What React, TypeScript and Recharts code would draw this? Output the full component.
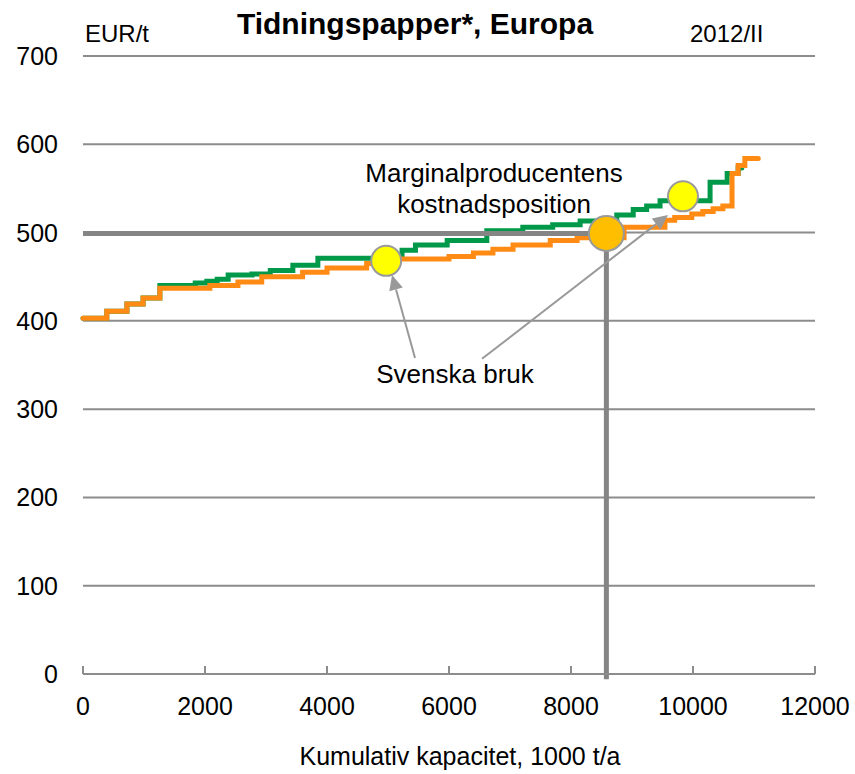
import React from 'react'
import { LineChart, Line, XAxis, YAxis, CartesianGrid, ReferenceLine, ReferenceDot } from 'recharts'

// Cost curves: cumulative capacity (1000 t/a) where each step starts, cost EUR/t
const greenCapacity = [0, 390, 720, 985, 1260, 1840, 2030, 2200, 2380, 2770, 3070, 3440, 3850, 5230, 5450, 5970, 6620, 7210, 7700, 8150, 8750, 9020, 9240, 9460, 10280, 10560, 10740, 10800]
const greenCost = [403, 411, 419, 426, 440, 443, 445, 447, 452, 453, 457, 463, 471, 480, 486, 491, 502, 506, 509, 513, 520, 526, 530, 536, 557, 567, 573, 573]

const orangeCapacity = [0, 390, 720, 985, 1260, 2080, 2540, 2930, 3600, 4000, 4650, 5000, 6000, 6400, 6720, 7050, 7660, 8100, 8870, 9540, 9700, 9980, 10160, 10330, 10490, 10640, 10740, 10850, 11070]
const orangeCost = [403, 411, 419, 426, 437, 440, 444, 450, 455, 460, 465, 470, 473, 477, 481, 486, 491, 494, 506, 514, 517, 521, 524, 527, 530, 567, 576, 584, 584]

// marginal producer position
const marginalCapacity = 8580
const marginalCost = 499

// Swedish mills
const svenskaCapacity = [4970, 9836]
const svenskaCost = [468, 541]

// annotation arrows (tail -> tip), data units
const arrowTailX = [5443, 6541]
const arrowTailY = [358, 357]
const arrowTipX = [5066, 9590]
const arrowTipY = [452, 520]

const xTicks = [0, 2000, 4000, 6000, 8000, 10000, 12000]
const yTicks = [0, 100, 200, 300, 400, 500, 600, 700]

const green = greenCapacity.map((x, i) => ({ x, y: greenCost[i] }))
const orange = orangeCapacity.map((x, i) => ({ x, y: orangeCost[i] }))

const FONT = '"Liberation Sans", Arial, sans-serif'
const GRID = '#8c8c8c'

const XTick = (props: any) => {
  const { x, y, payload } = props
  return (
    <g>
      <line x1={x} x2={x} y1={y} y2={y - 8} stroke={GRID} strokeWidth={2} />
      <text x={x} y={y + 41} textAnchor="middle" fontSize={25} fontFamily={FONT} fill="#000">{payload.value}</text>
    </g>
  )
}

const YTick = (props: any) => {
  const { x, y, payload } = props
  return (
    <text x={x - 25} y={y + 9} textAnchor="end" fontSize={25} fontFamily={FONT} fill="#000">{payload.value}</text>
  )
}

const Arrow = (p: any) => {
  const { x1, y1, x2, y2 } = p
  const dx = x2 - x1, dy = y2 - y1
  const len = Math.hypot(dx, dy) || 1
  const ux = dx / len, uy = dy / len
  const hl = 15, hw = 7
  const bx = x2 - ux * hl, by = y2 - uy * hl
  return (
    <g>
      <line x1={x1} y1={y1} x2={bx} y2={by} stroke="#999" strokeWidth={2} />
      <polygon points={`${x2},${y2} ${bx - uy * hw},${by + ux * hw} ${bx + uy * hw},${by - ux * hw}`} fill="#999" />
    </g>
  )
}

export default function App() {
  return (
    <div style={{ position: 'relative', width: 855, height: 774, background: '#fff', fontFamily: FONT }}>
      <style>{'body{margin:0}'}</style>
      <LineChart width={855} height={774} margin={{ top: 56, right: 40, bottom: 0, left: 0 }}>
        <CartesianGrid vertical={false} stroke={GRID} strokeWidth={2} />
        <XAxis
          type="number"
          dataKey="x"
          domain={[0, 12000]}
          ticks={xTicks}
          interval={0}
          tickSize={0}
          tickMargin={0}
          tickLine={false}
          axisLine={{ stroke: GRID, strokeWidth: 2 }}
          height={100}
          tick={<XTick />}
        />
        <YAxis
          type="number"
          domain={[0, 700]}
          ticks={yTicks}
          interval={0}
          tickSize={0}
          tickMargin={0}
          tickLine={false}
          axisLine={false}
          width={83}
          tick={<YTick />}
        />
        <Line data={green} dataKey="y" type="stepAfter" stroke="#00994a" strokeWidth={5} dot={false} strokeLinecap="round" isAnimationActive={false} />
        <Line data={orange} dataKey="y" type="stepAfter" stroke="#ff8a14" strokeWidth={5} dot={false} strokeLinecap="round" isAnimationActive={false} />
        <ReferenceLine segment={[{ x: 0, y: marginalCost }, { x: marginalCapacity, y: marginalCost }]} stroke="#858585" strokeWidth={5} ifOverflow="visible" />
        <ReferenceLine segment={[{ x: marginalCapacity, y: marginalCost }, { x: marginalCapacity, y: -6 }]} stroke="#858585" strokeWidth={5} ifOverflow="visible" />
        {arrowTailX.map((tx, i) => (
          <ReferenceLine
            key={'a' + i}
            segment={[{ x: tx, y: arrowTailY[i] }, { x: arrowTipX[i], y: arrowTipY[i] }]}
            ifOverflow="visible"
            shape={Arrow}
          />
        ))}
        <ReferenceDot x={marginalCapacity} y={marginalCost} r={17.5} fill="#ffbf00" stroke="#9a9a9a" strokeWidth={2} ifOverflow="visible" />
        {svenskaCapacity.map((sx, i) => (
          <ReferenceDot key={'s' + i} x={sx} y={svenskaCost[i]} r={15} fill="#ffff00" stroke="#9a9a9a" strokeWidth={2} ifOverflow="visible" />
        ))}
      </LineChart>
      <svg width={855} height={774} style={{ position: 'absolute', left: 0, top: 0, pointerEvents: 'none' }}>
        <text x={415} y={34} textAnchor="middle" fontSize={30} fontWeight="bold" fontFamily={FONT}>Tidningspapper*, Europa</text>
        <text x={85} y={42} fontSize={24} fontFamily={FONT}>EUR/t</text>
        <text x={690} y={42} fontSize={24} fontFamily={FONT}>2012/II</text>
        <text x={494} y={182} textAnchor="middle" fontSize={26} fontFamily={FONT}>Marginalproducentens</text>
        <text x={494} y={213} textAnchor="middle" fontSize={26} fontFamily={FONT}>kostnadsposition</text>
        <text x={455} y={383} textAnchor="middle" fontSize={26} fontFamily={FONT}>Svenska bruk</text>
        <text x={460} y={765} textAnchor="middle" fontSize={25} fontFamily={FONT}>Kumulativ kapacitet, 1000 t/a</text>
      </svg>
    </div>
  )
}
